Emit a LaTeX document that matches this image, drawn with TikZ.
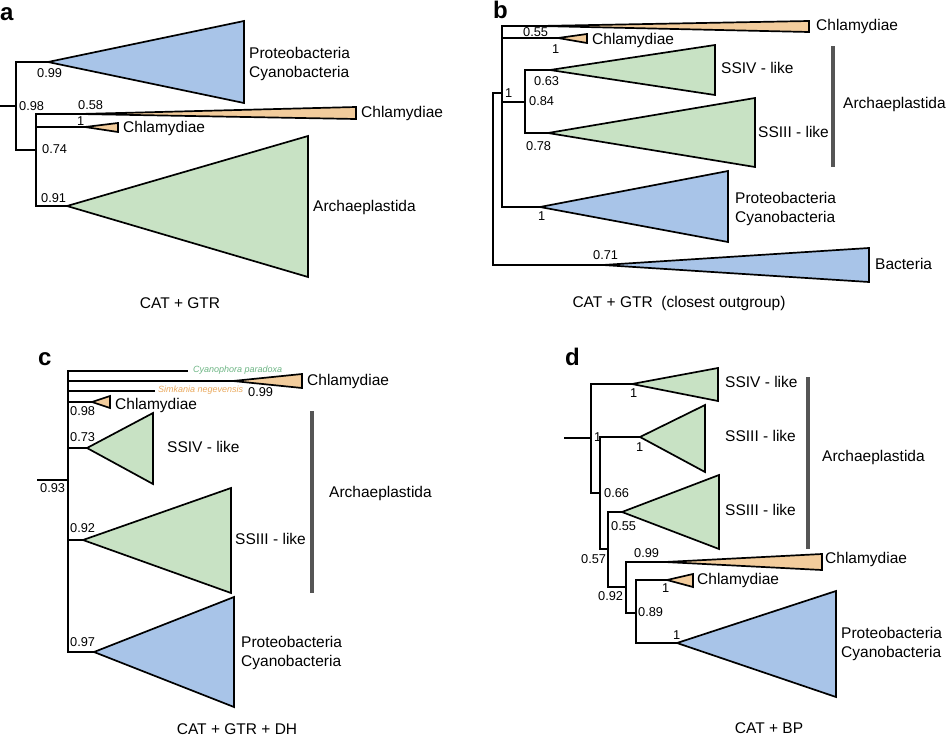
\documentclass[tikz,border=0pt]{standalone}
\usepackage{fontspec}
\setmainfont{Liberation Sans}
\definecolor{cblue}{HTML}{A8C4E8}
\definecolor{cgreen}{HTML}{C8E2C4}
\definecolor{corange}{HTML}{F2CC9C}
\definecolor{tgreen}{HTML}{6DB584}
\definecolor{torange}{HTML}{E9A85C}
\definecolor{bargray}{HTML}{555555}
\tikzset{
  br/.style={line width=1.7pt, line cap=rect},
  tri/.style={draw=black, line width=1.7pt, line join=miter},
  num/.style={anchor=west, inner sep=0pt, font=\fontsize{12.8}{15}\selectfont},
  lab/.style={anchor=west, inner sep=0pt, align=left, font=\fontsize{15.5}{19}\selectfont},
  captxt/.style={anchor=center, inner sep=0pt, font=\fontsize{15.5}{19}\selectfont},
  letter/.style={anchor=base west, inner sep=0pt, font=\fontsize{24}{26}\selectfont\bfseries},
  sp/.style={anchor=west, inner sep=0pt, font=\fontsize{9}{10}\selectfont\itshape},
  grpbar/.style={draw=bargray, line width=4pt}
}
\newcommand\clade[5]{\draw[tri, fill=#5] (#1) -- (#2,#3) -- (#2,#4) -- cycle;}
\begin{document}
\begin{tikzpicture}[x=1pt,y=-1pt]
\useasboundingbox (0,0) rectangle (946,739);
%================ panel a
\node[letter] (la) at (0,20) {a};
\coordinate (aR) at (0,106);
\coordinate (aN1) at (16,106);
\coordinate (aN2) at (36,150);
\coordinate (aP) at (48,62);
\coordinate (aC1) at (80,114);
\coordinate (aC2) at (85,127);
\coordinate (aA) at (67,206);
\draw[br] (aR) -- (aN1);
\draw[br] (aN1 |- aP) -- (aN1 |- aN2);
\draw[br] (aN1 |- aP) -- (aP);
\draw[br] (aN1 |- aN2) -- (aN2);
\draw[br] (aN2 |- aC1) -- (aN2 |- aA);
\draw[br] (aN2 |- aC1) -- (aC1);
\draw[br] (aN2 |- aC2) -- (aC2);
\draw[br] (aN2 |- aA) -- (aA);
\clade{aP}{244}{21}{103}{cblue}
\clade{aC1}{356}{107}{119}{corange}
\clade{aC2}{118}{123}{132}{corange}
\clade{aA}{308}{136}{277}{cgreen}
\node[num] (a099) at (37,73) {0.99};
\node[lab] (aPl) at (249,63.5) {Proteobacteria\\Cyanobacteria};
\node[num] (a098) at (19,106) {0.98};
\node[num] (a058) at (78,105) {0.58};
\node[num] (a1) at (77,121) {1};
\node[lab] (aC2l) at (123,128) {Chlamydiae};
\node[lab] (aC1l) at (361,113) {Chlamydiae};
\node[num] (a074) at (42,149) {0.74};
\node[num] (a091) at (41,198) {0.91};
\node[lab] (aAl) at (313,207) {Archaeplastida};
\node[captxt] (acap) at (180,303) {CAT + GTR};
%================ panel b
\node[letter] (lb) at (493,18) {b};
\coordinate (bR) at (493,93);
\coordinate (bN2) at (502,93);
\coordinate (bB) at (603,265);
\coordinate (bC1) at (540,26);
\coordinate (bC2) at (558,38);
\coordinate (bN3) at (525,102);
\coordinate (bP) at (540,207);
\coordinate (bS4) at (550,70);
\coordinate (bS3) at (548,133);
\draw[br] (bR) -- (bR |- bB);
\draw[br] (bR) -- (bN2);
\draw[br] (bR |- bB) -- (bB);
\draw[br] (bN2 |- bC1) -- (bN2 |- bP);
\draw[br] (bN2 |- bC1) -- (bC1);
\draw[br] (bN2 |- bC2) -- (bC2);
\draw[br] (bN2 |- bN3) -- (bN3);
\draw[br] (bN2 |- bP) -- (bP);
\draw[br] (bN3 |- bS4) -- (bN3 |- bS3);
\draw[br] (bN3 |- bS4) -- (bS4);
\draw[br] (bN3 |- bS3) -- (bS3);
\clade{bC1}{809}{21}{32}{corange}
\clade{bC2}{587}{34}{43}{corange}
\clade{bS4}{715}{45}{95}{cgreen}
\clade{bS3}{755}{98}{167}{cgreen}
\clade{bP}{728}{171}{242}{cblue}
\clade{bB}{869}{248}{282}{cblue}
\draw[grpbar] (833,46) -- (833,167);
\node[lab] (bC1l) at (816,26) {Chlamydiae};
\node[num] (b055) at (523,32) {0.55};
\node[lab] (bC2l) at (592,40) {Chlamydiae};
\node[num] (b1a) at (552,49) {1};
\node[lab] (bS4l) at (721,68) {SSIV - like};
\node[num] (b063) at (534,81) {0.63};
\node[num] (b1b) at (505,93) {1};
\node[num] (b084) at (529,101) {0.84};
\node[lab] (bS3l) at (758,132) {SSIII - like};
\node[num] (b078) at (526,146) {0.78};
\node[lab] (bAl) at (843,104) {Archaeplastida};
\node[num] (b1c) at (538,216) {1};
\node[lab] (bPl) at (735,208.5) {Proteobacteria\\Cyanobacteria};
\node[num] (b071) at (593,255) {0.71};
\node[lab] (bBl) at (875,264) {Bacteria};
\node[captxt] (bcap) at (679,303) {CAT + GTR\ \ (closest outgroup)};
%================ panel c
\node[letter] (lc) at (38,365) {c};
\coordinate (cR) at (38,480);
\coordinate (cN) at (68,480);
\coordinate (cCy) at (187,371);
\coordinate (cC1) at (233,381);
\coordinate (cSi) at (154,391);
\coordinate (cC2) at (92,402);
\coordinate (cS4) at (87,448);
\coordinate (cS3) at (83,540);
\coordinate (cP) at (94,652);
\draw[br] (cR) -- (cN);
\draw[br] (cN |- cCy) -- (cN |- cP);
\draw[br] (cN |- cCy) -- (cCy);
\draw[br] (cN |- cC1) -- (cC1);
\draw[br] (cN |- cSi) -- (cSi);
\draw[br] (cN |- cC2) -- (cC2);
\draw[br] (cN |- cS4) -- (cS4);
\draw[br] (cN |- cS3) -- (cS3);
\draw[br] (cN |- cP) -- (cP);
\clade{cC1}{302}{374}{388}{corange}
\clade{cC2}{110}{396}{408}{corange}
\clade{cS4}{153}{413}{484}{cgreen}
\clade{cS3}{231}{488}{593}{cgreen}
\clade{cP}{234}{597}{707}{cblue}
\draw[grpbar] (312,411) -- (312,593);
\node[sp, text=tgreen] (cCyl) at (193,370) {Cyanophora paradoxa};
\node[lab] (cC1l) at (307,381) {Chlamydiae};
\node[sp, text=torange] (cSil) at (158,390) {Simkania negevensis};
\node[num] (c099) at (248,392) {0.99};
\node[lab] (cC2l) at (115,405) {Chlamydiae};
\node[num] (c098) at (70,411) {0.98};
\node[num] (c073) at (70,437) {0.73};
\node[lab] (cS4l) at (167,447) {SSIV - like};
\node[num] (c093) at (40,488) {0.93};
\node[num] (c092) at (70,528) {0.92};
\node[lab] (cS3l) at (235,539) {SSIII - like};
\node[lab] (cAl) at (329,493) {Archaeplastida};
\node[num] (c097) at (70,642) {0.97};
\node[lab] (cPl) at (241,652.5) {Proteobacteria\\Cyanobacteria};
\node[captxt] (ccap) at (237,729) {CAT + GTR + DH};
%================ panel d
\node[letter] (ld) at (565,365) {d};
\coordinate (dR) at (565,438);
\coordinate (dN1) at (591,438);
\coordinate (dS4) at (632,384);
\coordinate (dN2) at (600,493);
\coordinate (dS3a) at (640,437);
\coordinate (dN3) at (608,549);
\coordinate (dS3b) at (622,512);
\coordinate (dN4) at (626,587);
\coordinate (dC1) at (665,562);
\coordinate (dN5) at (636,613);
\coordinate (dC2) at (667,580);
\coordinate (dP) at (677,643);
\draw[br] (dR) -- (dN1);
\draw[br] (dN1 |- dS4) -- (dN1 |- dN2);
\draw[br] (dN1 |- dS4) -- (dS4);
\draw[br] (dN1 |- dN2) -- (dN2);
\draw[br] (dN2 |- dS3a) -- (dN2 |- dN3);
\draw[br] (dN2 |- dS3a) -- (dS3a);
\draw[br] (dN2 |- dN3) -- (dN3);
\draw[br] (dN3 |- dS3b) -- (dN3 |- dN4);
\draw[br] (dN3 |- dS3b) -- (dS3b);
\draw[br] (dN3 |- dN4) -- (dN4);
\draw[br] (dN4 |- dC1) -- (dN4 |- dN5);
\draw[br] (dN4 |- dC1) -- (dC1);
\draw[br] (dN4 |- dN5) -- (dN5);
\draw[br] (dN5 |- dC2) -- (dN5 |- dP);
\draw[br] (dN5 |- dC2) -- (dC2);
\draw[br] (dN5 |- dP) -- (dP);
\clade{dS4}{718}{368}{401}{cgreen}
\clade{dS3a}{705}{405}{472}{cgreen}
\clade{dS3b}{719}{475}{549}{cgreen}
\clade{dC1}{822}{554}{570}{corange}
\clade{dC2}{693}{574}{587}{corange}
\clade{dP}{836}{591}{697}{cblue}
\draw[grpbar] (808,377) -- (808,549);
\node[num] (d1a) at (630,393) {1};
\node[lab] (dS4l) at (725,382) {SSIV - like};
\node[num] (d1b) at (594,437) {1};
\node[lab] (dS3al) at (725,436) {SSIII - like};
\node[num] (d1c) at (636,447) {1};
\node[num] (d066) at (604,493) {0.66};
\node[lab] (dS3bl) at (725,510) {SSIII - like};
\node[num] (d055) at (611,526) {0.55};
\node[lab] (dAl) at (822,457) {Archaeplastida};
\node[num] (d057) at (581,559) {0.57};
\node[num] (d099) at (634,553) {0.99};
\node[lab] (dC1l) at (825,559) {Chlamydiae};
\node[num] (d092) at (598,596) {0.92};
\node[num] (d089) at (638,612) {0.89};
\node[num] (d1d) at (662,588) {1};
\node[lab] (dC2l) at (697,580) {Chlamydiae};
\node[num] (d1e) at (673,635) {1};
\node[lab] (dPl) at (841,643.5) {Proteobacteria\\Cyanobacteria};
\node[captxt] (dcap) at (769,728) {CAT + BP};
\end{tikzpicture}
\end{document}
